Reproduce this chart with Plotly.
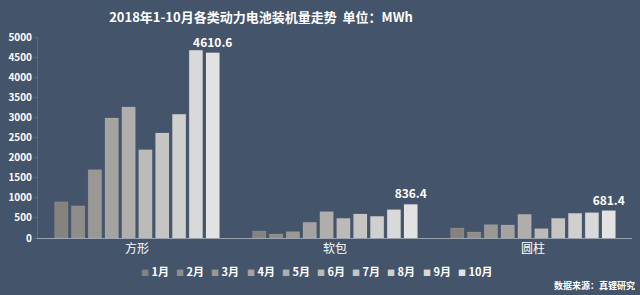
import plotly.graph_objects as go

categories = ["方形", "软包", "圆柱"]
months = ["1月", "2月", "3月", "4月", "5月", "6月", "7月", "8月", "9月", "10月"]
fangxing = [900, 800, 1700, 2985, 3260, 2197, 2612, 3076, 4668, 4610.6]
ruanbao = [174, 100, 158, 390, 655, 489, 597, 539, 705, 836.4]
yuanzhu = [249, 149, 332, 323, 589, 232, 489, 614, 630, 681.4]

colors = ["#85817d", "#8f8c89", "#9a9895", "#a5a3a1", "#b0aeac",
          "#bbbab8", "#c6c5c4", "#d0d0cf", "#d9d9d9", "#e2e2e2"]

BG = "#44546a"
FONT = "Noto Sans CJK SC"

L, R, T, B = 38, 8, 37, 57
W, H = 640, 295
PW, PH = W - L - R, H - T - B


def px_x(px):
    return (px - L) / PW


def px_y(py):
    return (H - B - py) / PH


fig = go.Figure()
for i, m in enumerate(months):
    vals = [fangxing[i], ruanbao[i], yuanzhu[i]]
    kw = {}
    if i == len(months) - 1:
        kw = dict(text=[f"<b>{v:g}</b>" for v in vals], textposition="outside",
                  textfont=dict(color="white", size=12, family=FONT),
                  constraintext="none", cliponaxis=False)
    fig.add_trace(go.Bar(
        x=categories, y=vals, name=m, showlegend=False,
        marker=dict(color=colors[i], line=dict(color="rgba(255,255,255,0.2)", width=0.5)),
        **kw))

# legend row built from months/colors
legend_x0 = 139
legend_step = 35.2
annotations = []
for i, m in enumerate(months):
    annotations.append(dict(
        text=f"<span style='color:{colors[i]};font-size:8px'>■</span> <b>{m}</b>",
        x=px_x(legend_x0 + i * legend_step), xref="paper", xanchor="left",
        y=px_y(271), yref="paper", yanchor="middle", showarrow=False,
        font=dict(size=11, color="white", family=FONT)))

annotations.append(dict(text="<b>数据来源：真锂研究</b>", x=px_x(637), xref="paper",
                        xanchor="right", y=px_y(285), yref="paper", yanchor="middle",
                        showarrow=False, font=dict(size=9, color="white", family=FONT)))

fig.update_layout(
    width=W, height=H,
    paper_bgcolor=BG, plot_bgcolor=BG,
    margin=dict(l=L, r=R, t=T, b=B),
    barmode="group", bargap=0.15, bargroupgap=0.2,
    font=dict(family=FONT, color="white"),
    title=dict(text="<b>2018年1-10月各类动力电池装机量走势  单位：MWh</b>",
               x=261 / W, xanchor="center", y=1 - 17 / H, yanchor="middle",
               font=dict(size=13, color="white", family=FONT)),
    xaxis=dict(showline=True, linecolor="#9aa3b0", linewidth=1,
               tickfont=dict(size=12, color="white", family=FONT),
               ticks="", showgrid=False),
    yaxis=dict(range=[0, 5000], dtick=500, showgrid=False, showline=True,
               linecolor="#5d6b80", linewidth=1, ticks="outside", ticklen=3,
               tickcolor="#5d6b80", tickprefix="<b>", ticksuffix="</b>",
               tickfont=dict(size=10, color="white", family=FONT), zeroline=False),
    showlegend=False,
    annotations=annotations,
)
fig.write_html("out.html")
